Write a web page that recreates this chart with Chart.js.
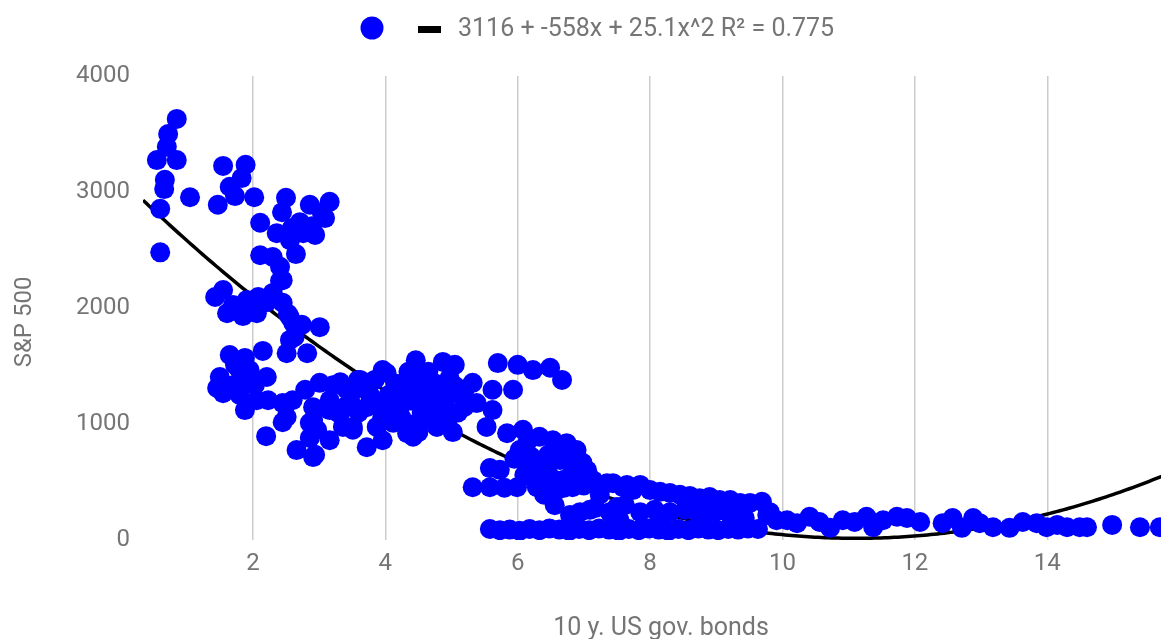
<!DOCTYPE html>
<html>
<head>
<meta charset="utf-8">
<script src="https://cdn.jsdelivr.net/npm/chart.js@4.4.1/dist/chart.umd.min.js"></script>
<style>
  html, body { margin: 0; padding: 0; background: #fff; overflow: hidden; }
  #wrap { width: 1161px; height: 639px; overflow: hidden; position: relative; }
  canvas { display: block; }
</style>
</head>
<body>
<div id="wrap"><canvas id="chart" width="1192" height="650"></canvas></div>
<script>
// 10-year US government bond yield (%) for each observation
const bondYield = [
  0.85, 0.72, 0.70, 0.55, 0.85, 0.67, 0.66, 0.60, 0.60, 1.05,
  1.55, 1.89, 1.83, 1.65, 1.73, 1.47, 2.02, 2.11,
  2.50, 2.44, 2.86, 3.04, 3.16, 3.09, 2.89, 2.71, 2.94, 2.76, 2.36, 2.11, 2.30, 2.65, 2.41, 2.45, 2.56, 2.59,
  1.43, 1.55, 1.70, 1.85, 1.80, 1.91, 2.00, 2.06, 2.08, 2.21, 2.30, 2.41, 2.45, 2.53, 2.56, 2.61, 2.74, 2.63, 2.56, 2.51, 2.82, 3.01, 1.61, 2.14,
  1.65, 1.88, 2.15, 1.50, 1.80, 1.95, 1.46, 1.70, 1.85, 2.21, 1.55, 1.80, 2.06, 2.23, 1.88, 2.20, 1.73, 2.03,
  2.45, 2.60, 2.51, 2.45, 2.66, 2.94, 2.79, 2.91, 2.91, 2.97, 2.86, 3.16, 3.01, 3.21, 3.42, 3.16, 3.29, 3.36, 3.51, 3.59,
  3.32, 3.62, 3.96, 4.02, 3.16, 3.32, 3.72, 3.51, 3.87, 3.72,
  3.96, 4.12, 4.22, 4.33, 4.42, 4.48, 4.46, 4.57, 4.67, 4.78,
  4.87, 4.97, 5.05, 4.93, 5.02, 5.32, 5.38, 5.62, 5.62, 5.53,
  5.84, 6.08, 5.70, 6.00, 6.23, 6.49, 6.67, 5.93, 4.67, 4.22,
  3.77, 3.47, 2.86, 2.91, 4.07, 5.13, 4.52, 4.83, 3.84,
  4.30, 4.40, 4.55, 4.60, 4.75, 4.85, 4.95, 5.10, 4.15, 4.35,
  4.65, 4.95, 5.20, 4.05, 3.60, 3.55, 3.90, 4.25, 4.50, 4.70,
  5.20, 5.05, 4.40, 3.95, 3.40,
  6.33, 6.53, 6.74, 6.89, 6.98, 6.03, 6.14, 5.58, 6.38, 5.32,
  5.58, 5.80, 5.99, 6.29, 6.59, 6.83, 7.14, 7.35, 7.59, 7.74,
  7.09, 7.50, 5.73, 6.64, 6.83, 6.46, 7.24, 6.56, 6.79, 6.40, 6.70,
  6.10, 6.25, 6.45, 6.55, 6.70, 6.90, 7.00, 6.20, 6.35, 6.90,
  7.05, 6.60, 6.80, 6.15, 5.95,
  7.44, 7.65, 7.85, 8.00, 8.15, 8.30, 8.45, 8.60, 8.75, 8.90, 9.05, 9.21, 9.36, 9.51, 9.69, 9.77,
  6.94, 7.17, 7.39, 7.62, 7.85, 8.07, 8.30, 8.53, 8.75, 8.98, 9.21, 9.43, 7.54, 8.15, 8.75,
  5.58, 5.73, 5.88, 6.03, 6.18, 6.33, 6.48, 6.63, 6.78, 6.93, 7.08, 7.23, 7.38, 7.53,
  7.68, 7.83, 7.98, 8.13, 8.28, 8.43, 8.58, 8.73, 8.88, 9.03, 9.18, 9.33, 9.48, 9.63,
  9.81, 9.91, 10.07, 10.22, 10.41, 10.56, 10.72, 10.91, 11.09, 11.27, 11.37, 11.52, 11.73, 11.88, 12.08, 12.42,
  12.57, 12.71, 12.88, 12.98, 13.18, 13.43, 13.63, 13.84, 13.99, 14.15, 14.30, 14.49, 14.60, 14.98, 15.40, 15.70
];

// S&P 500 index level for the same observations
const sp500Index = [
  3630, 3500, 3390, 3275, 3275, 3105, 3025, 2855, 2480, 2955,
  3225, 3235, 3120, 3045, 2965, 2890, 2955, 2735,
  2950, 2825, 2890, 2825, 2915, 2775, 2705, 2740, 2630, 2645, 2645, 2455, 2440, 2465, 2355, 2240, 2585, 2690,
  2095, 2155, 2025, 1930, 2000, 2070, 1965, 1955, 2095, 2050, 2130, 2235, 2045, 1950, 1920, 1870, 1855, 1750, 1725, 1610, 1610, 1835, 1955, 2045,
  1595, 1570, 1630, 1405, 1465, 1465, 1310, 1335, 1355, 1405, 1265, 1250, 1205, 1205, 1120, 895, 1510, 1335,
  1180, 1205, 1060, 1015, 775, 735, 1295, 1145, 1035, 950, 880, 860, 1355, 1335, 1295, 1120, 1095, 975, 950, 1380,
  1360, 1380, 1465, 1440, 1205, 1095, 1145, 975, 975, 800,
  860, 1010, 1145, 920, 890, 1010, 1550, 1405, 1145, 975,
  1535, 1395, 1510, 1120, 930, 1355, 1180, 1295, 1120, 975,
  920, 950, 1525, 1510, 1465, 1485, 1380, 1295, 1295, 1235,
  1250, 1205, 1010, 715, 1120, 1250, 1205, 1250, 1380,
  1300, 1200, 1100, 1250, 1350, 1150, 1050, 1100, 1350, 1450,
  1450, 1250, 1300, 1250, 1100, 1300, 1150, 1050, 930, 1040,
  1150, 1330, 1350, 1050, 1150,
  890, 860, 835, 775, 665, 775, 665, 620, 580, 455,
  455, 450, 455, 455, 430, 455, 515, 490, 455, 430,
  260, 285, 605, 690, 605, 735, 390, 300, 215, 390, 520,
  560, 520, 600, 520, 450, 560, 470, 720, 650, 680,
  600, 800, 720, 850, 700,
  490, 475, 475, 430, 415, 405, 390, 380, 360, 370, 345, 345, 320, 320, 330, 215,
  240, 275, 240, 300, 240, 260, 240, 260, 235, 240, 215, 190, 170, 170, 155,
  95, 85, 90, 80, 95, 85, 100, 90, 80, 95, 85, 100, 90, 80,
  95, 85, 100, 90, 80, 95, 85, 100, 90, 85, 95, 90, 100, 95,
  240, 170, 170, 145, 200, 155, 105, 170, 155, 200, 110, 170, 200, 190, 155, 145,
  190, 105, 190, 145, 110, 105, 155, 145, 110, 130, 110, 110, 110, 130, 110, 110
];

// Quadratic trendline: c0 + c1*x + c2*x^2, with its goodness of fit
const trendCoef = [3116, -558, 25.1];
const trendR2 = 0.775;

// Axis tick values and ranges
const xTickValues = [2, 4, 6, 8, 10, 12, 14];
const yTickValues = [0, 1000, 2000, 3000, 4000];
const xRange = [0.34, 15.99];
const yRange = [0, 4000];

const TEXT_GRAY = '#757575';
const FONT = 'Roboto';

const scatterPoints = bondYield.map((x, i) => ({ x, y: sp500Index[i] }));

// Sample the fitted curve across the horizontal range
const trendPoints = [];
for (let x = xRange[0]; x <= 16.2; x += 0.05) {
  trendPoints.push({ x, y: trendCoef[0] + trendCoef[1] * x + trendCoef[2] * x * x });
}
const trendLabel = `${trendCoef[0]} + ${trendCoef[1]}x + ${trendCoef[2]}x^2 R\u00B2 = ${trendR2}`;

// Legend row and rotated vertical-axis title
const chartText = {
  id: 'chartText',
  afterDraw(chart) {
    const ctx = chart.ctx;
    const [pts, trend] = chart.data.datasets;
    const area = chart.chartArea;
    ctx.save();
    ctx.fillStyle = pts.backgroundColor;
    ctx.beginPath();
    ctx.arc(372, 28, 11.5, 0, Math.PI * 2);
    ctx.fill();
    ctx.fillStyle = trend.borderColor;
    ctx.fillRect(418, 26, 23, 7);
    ctx.font = `25px ${FONT}`;
    ctx.fillStyle = TEXT_GRAY;
    ctx.textAlign = 'left';
    ctx.textBaseline = 'alphabetic';
    ctx.fillText(trend.label, 458, 36);

    ctx.font = `24px ${FONT}`;
    ctx.translate(25, (area.top + area.bottom) / 2 + 14);
    ctx.rotate(-Math.PI / 2);
    ctx.textAlign = 'center';
    ctx.textBaseline = 'middle';
    ctx.fillText('S&P 500', 0, 0);
    ctx.restore();
  }
};

new Chart(document.getElementById('chart'), {
  type: 'scatter',
  data: {
    datasets: [
      {
        label: '',
        data: scatterPoints,
        backgroundColor: '#0000ff',
        borderWidth: 0,
        pointRadius: 10,
        pointHoverRadius: 10,
        order: 1
      },
      {
        type: 'line',
        label: trendLabel,
        data: trendPoints,
        borderColor: '#000000',
        borderWidth: 3.5,
        pointRadius: 0,
        fill: false,
        tension: 0,
        order: 2
      }
    ]
  },
  options: {
    responsive: false,
    animation: false,
    events: [],
    layout: { padding: { top: 76, right: 13, left: 0, bottom: 0 } },
    plugins: {
      legend: { display: false },
      tooltip: { enabled: false }
    },
    scales: {
      x: {
        type: 'linear',
        min: xRange[0],
        max: xRange[1],
        afterBuildTicks: (s) => { s.ticks = xTickValues.map(v => ({ value: v })); },
        afterFit: (s) => { s.height = 110; },
        ticks: {
          font: { family: FONT, size: 24 },
          color: TEXT_GRAY,
          padding: 10,
          callback: (v) => String(v)
        },
        grid: { color: '#cccccc', lineWidth: 1.5, drawTicks: false },
        border: { display: false },
        title: {
          display: true,
          text: '10 y. US gov. bonds',
          font: { family: FONT, size: 25 },
          color: TEXT_GRAY,
          padding: { top: 0, bottom: 6 }
        }
      },
      y: {
        type: 'linear',
        min: yRange[0],
        max: yRange[1],
        afterBuildTicks: (s) => { s.ticks = yTickValues.map(v => ({ value: v })); },
        afterFit: (s) => { s.width = 143; },
        ticks: {
          font: { family: FONT, size: 24 },
          color: TEXT_GRAY,
          padding: 13,
          callback: (v) => String(v)
        },
        grid: { display: false, drawTicks: false },
        border: { display: false }
      }
    }
  },
  plugins: [chartText]
});
</script>
</body>
</html>
